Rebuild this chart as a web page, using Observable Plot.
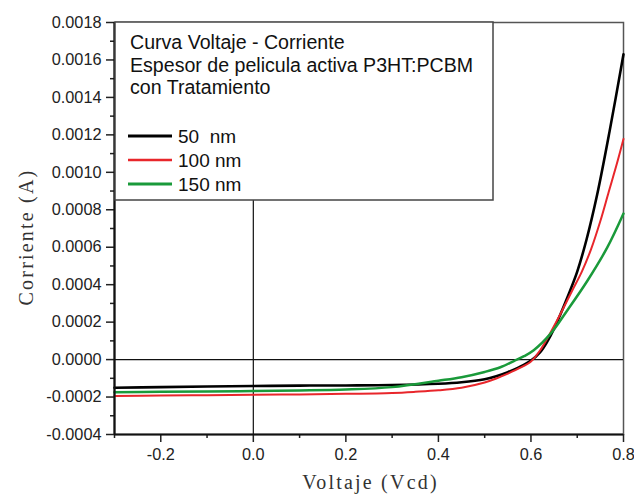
<!DOCTYPE html>
<html><head><meta charset="utf-8">
<script src="https://cdn.jsdelivr.net/npm/d3@7"></script>
<script src="https://cdn.jsdelivr.net/npm/@observablehq/plot@0.6"></script>
<style>body{margin:0;background:#fff}</style>
</head><body><div id="chart"></div>
<script>
// ---- data ----
const seriesNames = ["50  nm", "100 nm", "150 nm"];
const seriesColors = ["#000000", "#e8262b", "#1a9a3a"];
const seriesWidths = [2.6, 2.0, 2.5];
const titleLines = ["Curva Voltaje - Corriente", "Espesor de pelicula activa P3HT:PCBM", "con Tratamiento"];

const volt50 = [-0.3, -0.2, -0.1, 0.0, 0.1, 0.2, 0.3, 0.4, 0.45, 0.5, 0.525, 0.55, 0.575, 0.6, 0.62, 0.635, 0.65, 0.664, 0.68, 0.7, 0.72, 0.743, 0.77, 0.8];
const curr50 = [-0.000150, -0.000147, -0.000144, -0.000141, -0.000139, -0.000138, -0.000136, -0.000129, -0.000121, -0.000105, -0.000089, -0.000067, -0.000040, -0.000005, 0.000040, 0.000095, 0.000165, 0.000244, 0.000340, 0.000470, 0.000640, 0.000880, 0.001220, 0.001630];

const volt100 = [-0.3, -0.2, -0.1, 0.0, 0.1, 0.2, 0.3, 0.35, 0.4, 0.45, 0.5, 0.525, 0.55, 0.575, 0.6, 0.62, 0.638, 0.66, 0.689, 0.71, 0.73, 0.75, 0.768, 0.785, 0.8];
const curr100 = [-0.000195, -0.000192, -0.000190, -0.000188, -0.000186, -0.000183, -0.000178, -0.000172, -0.000164, -0.000150, -0.000122, -0.000101, -0.000075, -0.000046, -0.000010, 0.000050, 0.000125, 0.000226, 0.000368, 0.000470, 0.000590, 0.000740, 0.000895, 0.001040, 0.001178];

const volt150 = [-0.3, -0.2, -0.1, 0.0, 0.1, 0.2, 0.3, 0.4, 0.45, 0.5, 0.534, 0.563, 0.585, 0.606, 0.642, 0.678, 0.722, 0.765, 0.8];
const curr150 = [-0.000174, -0.000172, -0.000170, -0.000168, -0.000165, -0.000160, -0.000147, -0.000113, -0.000094, -0.000066, -0.000041, -0.000008, 0.000018, 0.000050, 0.000137, 0.000261, 0.000421, 0.000599, 0.000780];

const yMajor = [-0.0004, -0.0002, 0.0000, 0.0002, 0.0004, 0.0006, 0.0008, 0.0010, 0.0012, 0.0014, 0.0016, 0.0018];
const yMinor = [-0.0003, -0.0001, 0.0001, 0.0003, 0.0005, 0.0007, 0.0009, 0.0011, 0.0013, 0.0015, 0.0017];
const xMajor = [-0.2, 0.0, 0.2, 0.4, 0.6, 0.8];
const xMinor = [-0.3, -0.1, 0.1, 0.3, 0.5, 0.7];
const xLabel = "Voltaje (Vcd)";
const yLabel = "Corriente (A)";

// ---- build tables ----
const volts = [volt50, volt100, volt150];
const currs = [curr50, curr100, curr150];
const rows = [];
seriesNames.forEach((s, k) => volts[k].forEach((v, i) => rows.push({series: s, v, c: currs[k][i]})));

const W = 634, H = 495;
const font = "'Liberation Sans', Arial, sans-serif";
const serif = "'Liberation Serif', 'DejaVu Serif', serif";
const fmt = p => d => d3.format(p)(d).replace("\u2212", "-");

const plot = Plot.plot({
  width: W, height: H,
  marginLeft: 114, marginRight: 11, marginTop: 22, marginBottom: 61,
  style: {fontFamily: font, fontSize: "16.3px", color: "#222", background: "#fff"},
  x: {domain: [-0.3, 0.8]},
  y: {domain: [-0.0004, 0.0018]},
  color: {domain: seriesNames, range: seriesColors},
  marks: [
    Plot.frame({stroke: "#555", strokeWidth: 1.5}),
    Plot.ruleX([0], {stroke: "#111", strokeWidth: 1.2}),
    Plot.ruleY([0], {stroke: "#111", strokeWidth: 1.2}),
    ...seriesNames.map((s, k) => Plot.line(rows.filter(d => d.series === s), {
      x: "v", y: "c", stroke: seriesColors[k], strokeWidth: seriesWidths[k], curve: "catmull-rom"
    })),
    Plot.axisY({ticks: yMajor, tickSize: 8, tickPadding: 5, tickFormat: fmt(".4f"), label: null, strokeWidth: 1.5}),
    Plot.axisY({ticks: yMinor, tickSize: 4, tickFormat: () => "", label: null, strokeWidth: 1.5}),
    Plot.axisX({ticks: xMajor, tickSize: 8, tickPadding: 6, tickFormat: fmt(".1f"), label: null, strokeWidth: 1.5}),
    Plot.axisX({ticks: xMinor, tickSize: 4, tickFormat: () => "", label: null, strokeWidth: 1.5}),
    Plot.ruleX([-0.3], {stroke: "#111", strokeWidth: 2.2}),
    Plot.ruleY([-0.0004], {stroke: "#111", strokeWidth: 2.2})
  ]
});

document.getElementById("chart").appendChild(plot);

// ---- in-plot legend box & axis titles ----
const svg = d3.select(plot);
const xs = plot.scale("x"), ys = plot.scale("y");
const x0 = xs.apply(-0.3), yTop = ys.apply(0.0018);
const g = svg.append("g").attr("text-anchor", "start");
g.append("rect").attr("x", x0 + 1).attr("y", yTop).attr("width", 378).attr("height", 178)
  .attr("fill", "#fff").attr("stroke", "#444").attr("stroke-width", 1.5);
titleLines.forEach((t, i) => g.append("text").attr("x", x0 + 16).attr("y", yTop + 27 + i * 22.5)
  .attr("text-anchor", "start").attr("font-family", font).attr("font-size", "19.6px").attr("fill", "#111").text(t));
seriesNames.forEach((s, i) => {
  const yy = yTop + 114 + i * 24;
  g.append("line").attr("x1", x0 + 14).attr("x2", x0 + 58).attr("y1", yy).attr("y2", yy)
    .attr("stroke", seriesColors[i]).attr("stroke-width", seriesWidths[i] + 0.5);
  g.append("text").attr("x", x0 + 64).attr("y", yy + 6.5).attr("text-anchor", "start").attr("font-family", font)
    .attr("font-size", "19px").attr("fill", "#111").attr("xml:space", "preserve").style("white-space", "pre").text(s);
});
svg.append("text").attr("x", (xs.apply(-0.3) + xs.apply(0.8)) / 2 + 2).attr("y", 489)
  .attr("text-anchor", "middle").attr("font-family", serif).attr("font-size", "20px")
  .attr("letter-spacing", "2.2px").attr("fill", "#333").text(xLabel);
svg.append("text").attr("transform", `translate(33,${(ys.apply(-0.0004) + ys.apply(0.0018)) / 2 + 9}) rotate(-90)`)
  .attr("text-anchor", "middle").attr("font-family", serif).attr("font-size", "20px")
  .attr("letter-spacing", "2.2px").attr("fill", "#333").text(yLabel);
</script>
</body></html>
